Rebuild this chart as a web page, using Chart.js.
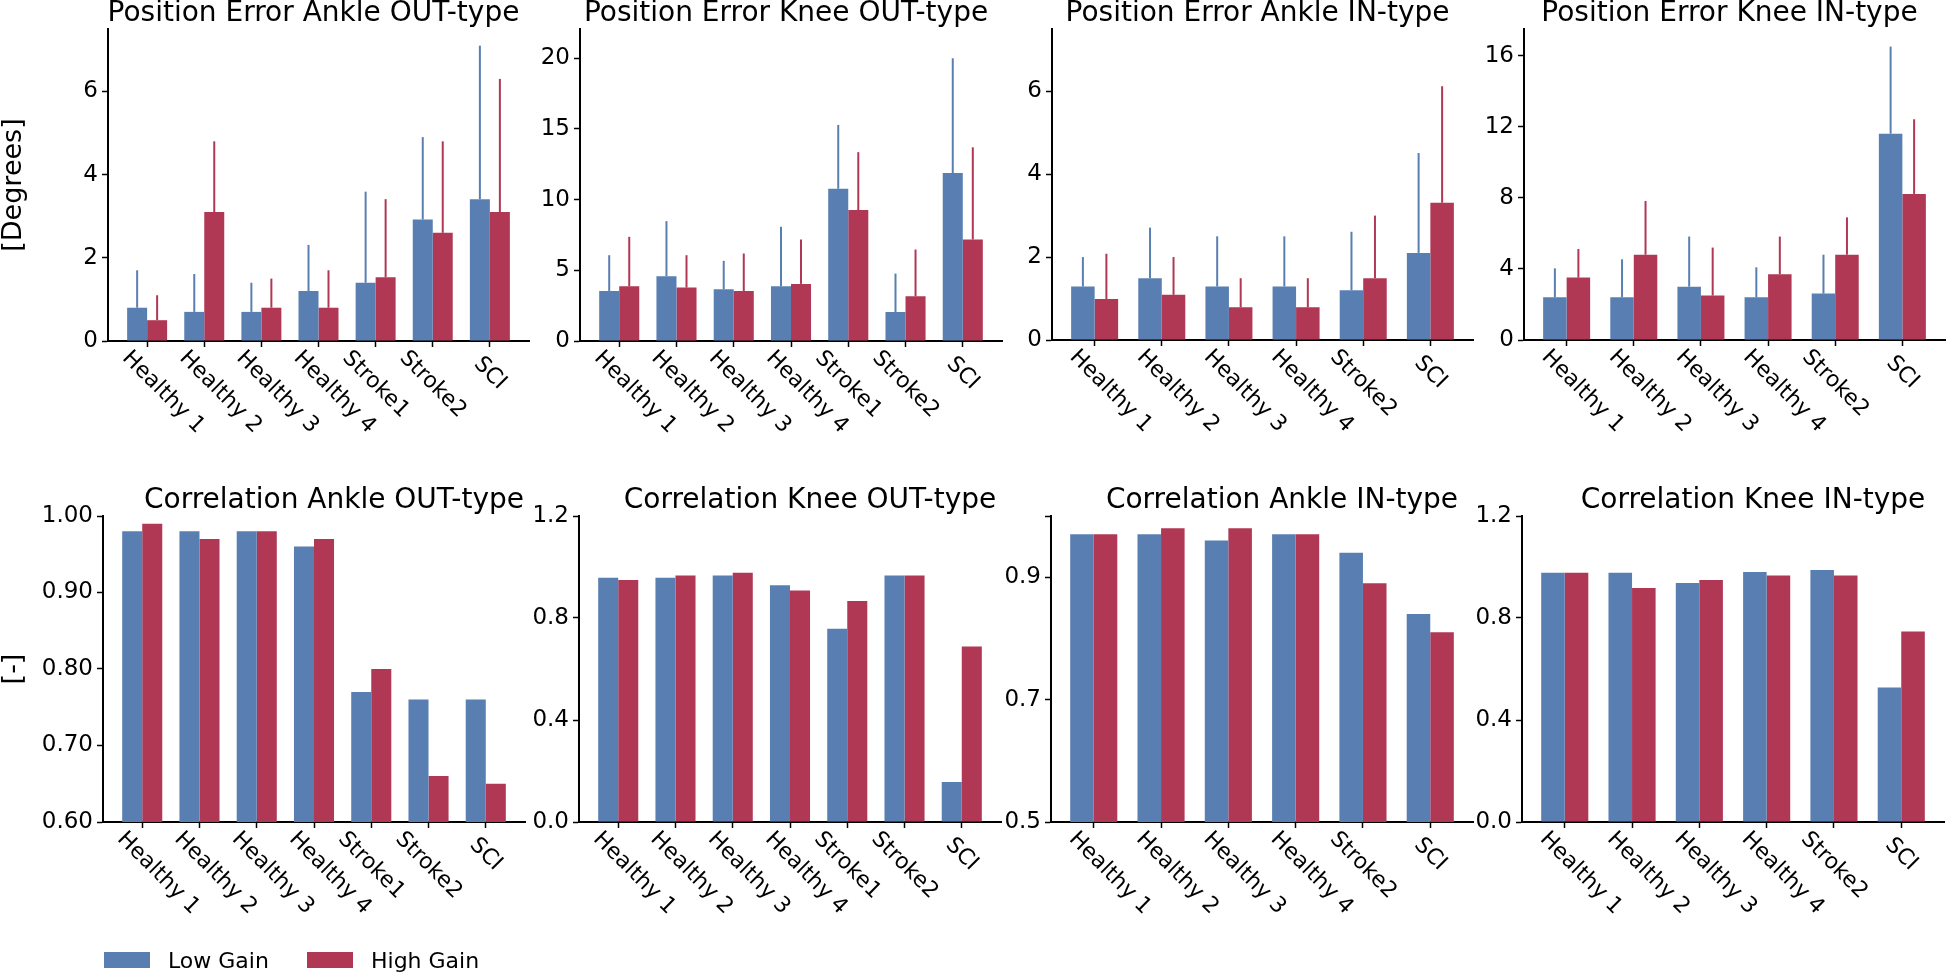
<!DOCTYPE html>
<html>
<head>
<meta charset="utf-8">
<script src="https://cdn.jsdelivr.net/npm/chart.js@4.4.1/dist/chart.umd.min.js"></script>
<style>
  html, body { margin: 0; padding: 0; background: #fff; }
  body { width: 1946px; height: 972px; position: relative; overflow: hidden; }
  canvas { position: absolute; }
</style>
</head>
<body>
<script>
const categoriesOut = ['Healthy 1', 'Healthy 2', 'Healthy 3', 'Healthy 4', 'Stroke1', 'Stroke2', 'SCI'];
const categoriesIn = ['Healthy 1', 'Healthy 2', 'Healthy 3', 'Healthy 4', 'Stroke2', 'SCI'];
const seriesNames = ['Low Gain', 'High Gain'];
const seriesColors = ['rgb(89, 127, 178)', 'rgb(176, 56, 85)'];

// position error, mean + sd (degrees)
const posAnkleOutLow = [0.8, 0.7, 0.7, 1.2, 1.4, 2.92, 3.41];
const posAnkleOutLowSd = [0.9, 0.91, 0.7, 1.11, 2.19, 1.98, 3.69];
const posAnkleOutHigh = [0.5, 3.1, 0.8, 0.8, 1.53, 2.6, 3.1];
const posAnkleOutHighSd = [0.6, 1.7, 0.7, 0.9, 1.88, 2.2, 3.2];

const posKneeOutLow = [3.54, 4.58, 3.66, 3.87, 10.77, 2.05, 11.88];
const posKneeOutLowSd = [2.53, 3.9, 2.01, 4.21, 4.51, 2.72, 8.12];
const posKneeOutHigh = [3.87, 3.78, 3.54, 4.04, 9.26, 3.16, 7.18];
const posKneeOutHighSd = [3.5, 2.29, 2.65, 3.14, 4.1, 3.31, 6.52];

const posAnkleInLow = [1.29, 1.49, 1.29, 1.29, 1.2, 2.1];
const posAnkleInLowSd = [0.71, 1.22, 1.21, 1.21, 1.41, 2.41];
const posAnkleInHigh = [0.99, 1.09, 0.79, 0.79, 1.49, 3.31];
const posAnkleInHighSd = [1.09, 0.91, 0.7, 0.7, 1.51, 2.81];

const posKneeInLow = [2.4, 2.4, 3.0, 2.4, 2.61, 11.61];
const posKneeInLowSd = [1.63, 2.14, 2.82, 1.69, 2.19, 4.9];
const posKneeInHigh = [3.51, 4.8, 2.5, 3.7, 4.8, 8.22];
const posKneeInHighSd = [1.61, 3.02, 2.7, 2.12, 2.1, 4.2];

// correlation
const corrAnkleOutLow = [0.98, 0.98, 0.98, 0.96, 0.77, 0.76, 0.76];
const corrAnkleOutHigh = [0.99, 0.97, 0.98, 0.97, 0.80, 0.66, 0.65];
const corrKneeOutLow = [0.958, 0.958, 0.967, 0.928, 0.758, 0.967, 0.157];
const corrKneeOutHigh = [0.949, 0.967, 0.977, 0.908, 0.867, 0.967, 0.688];
const corrAnkleInLow = [0.97, 0.97, 0.96, 0.97, 0.94, 0.84];
const corrAnkleInHigh = [0.97, 0.98, 0.98, 0.97, 0.89, 0.81];
const corrKneeInLow = [0.977, 0.977, 0.937, 0.98, 0.988, 0.527];
const corrKneeInHigh = [0.977, 0.918, 0.949, 0.967, 0.967, 0.747];

// y ticks
const posAnkleTicks = [0, 2, 4, 6];
const posAnkleTickLabels = ['0', '2', '4', '6'];
const posKneeOutTicks = [0, 5, 10, 15, 20];
const posKneeOutTickLabels = ['0', '5', '10', '15', '20'];
const posKneeInTicks = [0, 4, 8, 12, 16];
const posKneeInTickLabels = ['0', '4', '8', '12', '16'];
const corrAnkleOutTicks = [0.6, 0.7, 0.8, 0.9, 1.0];
const corrAnkleOutTickLabels = ['0.60', '0.70', '0.80', '0.90', '1.00'];
const corrKneeTicks = [0, 0.4, 0.8, 1.2];
const corrKneeTickLabels = ['0.0', '0.4', '0.8', '1.2'];
const corrAnkleInTicks = [0.5, 0.7, 0.9, 1.0];
const corrAnkleInTickLabels = ['0.5', '0.7', '0.9', ''];

Chart.defaults.font.family = "'DejaVu Sans'";
Chart.defaults.color = '#000';

const panelTitle = {
    id: 'panelTitle',
    afterDraw(chart, args, opts) {
        const { ctx, chartArea } = chart;
        ctx.save();
        ctx.font = "28px 'DejaVu Sans'";
        ctx.fillStyle = '#000';
        ctx.textAlign = 'center';
        ctx.textBaseline = 'alphabetic';
        ctx.fillText(opts.text, (chartArea.left + chartArea.right) / 2 + opts.dx, chartArea.top - 8);
        ctx.restore();
    }
};

// slanted category labels, going down to the right
const slantLabels = {
    id: 'slantLabels',
    afterDraw(chart) {
        const { ctx, chartArea } = chart;
        const xs = chart.scales.x;
        ctx.save();
        ctx.font = "22px 'DejaVu Sans'";
        ctx.fillStyle = '#000';
        ctx.textAlign = 'center';
        ctx.textBaseline = 'middle';
        chart.data.labels.forEach((label, i) => {
            const w = ctx.measureText(label).width;
            const half = (w + 22) * Math.SQRT1_2 / 2;
            // the original nudges the longer "Healthy" labels to the right
            const shift = label.startsWith('Healthy') ? 16 : 0;
            const drop = w < 50 ? 6 : 0;
            ctx.save();
            ctx.translate(xs.getPixelForValue(i) + shift, chartArea.bottom + 6 + drop + half);
            ctx.rotate(Math.PI / 4);
            ctx.fillText(label, 0, 0);
            ctx.restore();
        });
        ctx.restore();
    }
};

// upper error bars only
const errorBars = {
    id: 'errorBars',
    afterDatasetsDraw(chart) {
        const { ctx } = chart;
        const ys = chart.scales.y;
        ctx.save();
        ctx.lineWidth = 2;
        chart.data.datasets.forEach((ds, d) => {
            if (!ds.sd) return;
            ctx.strokeStyle = ds.backgroundColor;
            chart.getDatasetMeta(d).data.forEach((bar, i) => {
                ctx.beginPath();
                ctx.moveTo(bar.x, bar.y);
                ctx.lineTo(bar.x, ys.getPixelForValue(ds.data[i].y + ds.sd[i]));
                ctx.stroke();
            });
        });
        ctx.restore();
    }
};

const figLegend = {
    id: 'figLegend',
    afterDraw(chart) {
        const { ctx, chartArea } = chart;
        ctx.save();
        ctx.font = "22px 'DejaVu Sans'";
        ctx.textBaseline = 'alphabetic';
        ctx.textAlign = 'left';
        chart.data.datasets.forEach((ds, d) => {
            const x = chartArea.left + 1 + d * 203;
            const y = chartArea.bottom + 130;
            ctx.fillStyle = ds.backgroundColor;
            ctx.fillRect(x, y, 46, 16);
            ctx.fillStyle = '#000';
            ctx.fillText(ds.label, x + 64, y + 16);
        });
        ctx.restore();
    }
};

function makePanel(p) {
    const [L, R, T, B] = p.area;
    const left = p.col === 0 ? 0 : L - 60;
    const right = Math.min(R + 20, 1946);
    const top = T - 40;
    const bottom = p.row === 0 ? B + 110 : 972;
    const xAxisH = 110;

    const canvas = document.createElement('canvas');
    canvas.width = right - left;
    canvas.height = bottom - top;
    canvas.style.left = left + 'px';
    canvas.style.top = top + 'px';
    canvas.style.width = (right - left) + 'px';
    canvas.style.height = (bottom - top) + 'px';
    document.body.appendChild(canvas);

    const n = p.cats.length;
    const margin = 0.05 * (n - 1 + 0.7);
    const axisLine = { display: true, color: '#000', width: 2 };
    const tickMarks = { display: true, offset: false, drawOnChartArea: false, drawTicks: true, tickLength: 6, tickWidth: 1.5, tickColor: '#000' };

    const datasets = [p.low, p.high].map((vals, d) => ({
        label: seriesNames[d],
        data: vals.map((v, i) => ({ x: i, y: v })),
        sd: p.sd ? p.sd[d] : null,
        backgroundColor: seriesColors[d],
        borderWidth: 0,
        categoryPercentage: 0.7,
        barPercentage: 1.0,
    }));

    const plugins = [panelTitle, slantLabels, errorBars];
    if (p.legend) plugins.push(figLegend);

    return new Chart(canvas, {
        type: 'bar',
        data: { labels: p.cats, datasets: datasets },
        options: {
            responsive: false,
            animation: false,
            devicePixelRatio: 1,
            layout: { padding: { top: T - top, right: right - R, bottom: bottom - B - xAxisH, left: 0 } },
            plugins: {
                legend: { display: false },
                tooltip: { enabled: false },
                panelTitle: { text: p.title, dx: p.row === 0 ? -5 : 20 },
            },
            scales: {
                x: {
                    type: 'linear',
                    offset: false,
                    min: -0.35 - margin,
                    max: n - 1 + 0.35 + margin,
                    grid: tickMarks,
                    border: axisLine,
                    ticks: { display: false },
                    afterBuildTicks: (scale) => { scale.ticks = p.cats.map((c, i) => ({ value: i })); },
                    afterFit: (scale) => { scale.height = xAxisH; },
                },
                y: {
                    min: p.yMin,
                    max: p.yMax,
                    grid: tickMarks,
                    border: axisLine,
                    ticks: {
                        font: { size: 23 },
                        color: '#000',
                        padding: 4,
                        callback: (value, index) => p.tickLabels[index],
                    },
                    title: {
                        display: !!p.yTitle,
                        text: p.yTitle || '',
                        font: { size: 27, lineHeight: 1 },
                        color: '#000',
                        padding: 0,
                    },
                    afterBuildTicks: (scale) => { scale.ticks = p.ticks.map(v => ({ value: v })); },
                    afterFit: (scale) => { scale.width = L - left; },
                },
            },
        },
        plugins: plugins,
    });
}

const panels = [
    { row: 0, col: 0, area: [108, 529, 29, 341], title: 'Position Error Ankle OUT-type', cats: categoriesOut,
      low: posAnkleOutLow, high: posAnkleOutHigh, sd: [posAnkleOutLowSd, posAnkleOutHighSd],
      yMin: 0, yMax: 7.5, ticks: posAnkleTicks, tickLabels: posAnkleTickLabels, yTitle: '[Degrees]' },
    { row: 0, col: 1, area: [580, 1002, 29, 341], title: 'Position Error Knee OUT-type', cats: categoriesOut,
      low: posKneeOutLow, high: posKneeOutHigh, sd: [posKneeOutLowSd, posKneeOutHighSd],
      yMin: 0, yMax: 22.07, ticks: posKneeOutTicks, tickLabels: posKneeOutTickLabels },
    { row: 0, col: 2, area: [1052, 1473, 29, 340], title: 'Position Error Ankle IN-type', cats: categoriesIn,
      low: posAnkleInLow, high: posAnkleInHigh, sd: [posAnkleInLowSd, posAnkleInHighSd],
      yMin: 0, yMax: 7.5, ticks: posAnkleTicks, tickLabels: posAnkleTickLabels },
    { row: 0, col: 3, area: [1524, 1945, 29, 340], title: 'Position Error Knee IN-type', cats: categoriesIn,
      low: posKneeInLow, high: posKneeInHigh, sd: [posKneeInLowSd, posKneeInHighSd],
      yMin: 0, yMax: 17.5, ticks: posKneeInTicks, tickLabels: posKneeInTickLabels },
    { row: 1, col: 0, area: [103, 525, 516, 822], title: 'Correlation Ankle OUT-type', cats: categoriesOut,
      low: corrAnkleOutLow, high: corrAnkleOutHigh,
      yMin: 0.6, yMax: 1.0, ticks: corrAnkleOutTicks, tickLabels: corrAnkleOutTickLabels, yTitle: '[-]', legend: true },
    { row: 1, col: 1, area: [579, 1001, 516, 822], title: 'Correlation Knee OUT-type', cats: categoriesOut,
      low: corrKneeOutLow, high: corrKneeOutHigh,
      yMin: 0, yMax: 1.2, ticks: corrKneeTicks, tickLabels: corrKneeTickLabels },
    { row: 1, col: 2, area: [1051, 1473, 516, 822], title: 'Correlation Ankle IN-type', cats: categoriesIn,
      low: corrAnkleInLow, high: corrAnkleInHigh,
      yMin: 0.5, yMax: 1.0, ticks: corrAnkleInTicks, tickLabels: corrAnkleInTickLabels },
    { row: 1, col: 3, area: [1522, 1944, 516, 822], title: 'Correlation Knee IN-type', cats: categoriesIn,
      low: corrKneeInLow, high: corrKneeInHigh,
      yMin: 0, yMax: 1.2, ticks: corrKneeTicks, tickLabels: corrKneeTickLabels },
];

const charts = panels.map(makePanel);
</script>
</body>
</html>
